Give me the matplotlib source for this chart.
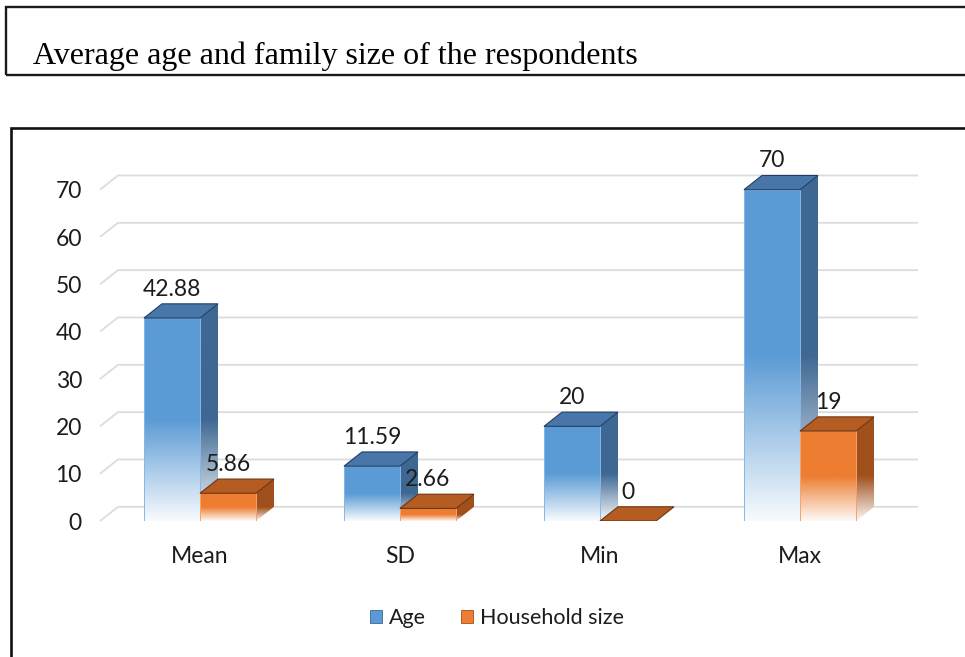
import numpy as np
import matplotlib
matplotlib.use("Agg")
import matplotlib.pyplot as plt
from matplotlib.patches import Polygon, Rectangle, Patch
from matplotlib.colors import to_rgb

# ---- data ----
categories = ["Mean", "SD", "Min", "Max"]
age = [42.88, 11.59, 20, 70]
household = [5.86, 2.66, 0, 19]
series_names = ["Age", "Household size"]
age_labels = ["42.88", "11.59", "20", "70"]
household_labels = ["5.86", "2.66", "0", "19"]
yticks = [0, 10, 20, 30, 40, 50, 60, 70]
title = "Average age and family size of the respondents"

# ---- style ----
W, H = 965, 657
FONT = "Lato"
TXT = "#1c1c1c"
FS = 16.5
blue = dict(front="#5B9BD5", side="#3E6893", top="#4876A8", edge="#1F3F66", hl="#86B7E6")
orange = dict(front="#ED7D31", side="#A0501C", top="#B45C22", edge="#6E3410", hl="#F4A46A")
BAR_W = 0.28
DX, DY = 0.09, 3.0  # 3D depth offset (data units)

fig = plt.figure(figsize=(W / 100, H / 100), dpi=100)

# frames
fig.add_artist(Rectangle((6 / W, 1 - 75 / H), (W + 20) / W, 68 / H, transform=fig.transFigure,
                         fill=False, lw=1.7, ec="#1a1a1a"))
fig.add_artist(Rectangle((11 / W, -0.05), (W + 20) / W, 1 - 128 / H + 0.05, transform=fig.transFigure,
                         fill=False, lw=1.9, ec="#111111"))
fig.text(33 / W, 1 - 64 / H, title, family="Liberation Serif", fontsize=23, color="black",
         ha="left", va="baseline")

ax = fig.add_axes([100 / W, (H - 521) / H, 800 / W, 355 / H])
ax.set_facecolor("none")
for s in ax.spines.values():
    s.set_visible(False)

# gridlines (back wall + left floor diagonal)
for y in yticks:
    ax.plot([-0.5, -0.5 + DX, 3.5 + DX], [y, y + DY, y + DY], color="#DCDCDC", lw=1.3,
            zorder=1, clip_on=False, solid_capstyle="butt")


def grad_array(color, h, y0, y1, n=300):
    ys = np.linspace(y0, y1, n)
    m = np.clip(ys / (0.5 * h), 0, 1)
    m = 0.04 + 0.96 * m
    c = np.array(to_rgb(color))
    rgb = (1 - m)[:, None] * np.ones(3)[None, :] + m[:, None] * c[None, :]
    arr = np.ones((n, 1, 4))
    arr[:, 0, :3] = rgb
    return arr


def face(verts, color, h, y0, y1, x0, x1, z):
    poly = Polygon(verts, closed=True, fc="none", ec="none", zorder=z)
    ax.add_patch(poly)
    im = ax.imshow(grad_array(color, h, y0, y1), extent=(x0, x1, y0, y1), origin="lower",
                   aspect="auto", interpolation="bilinear", zorder=z)
    im.set_clip_path(poly)


def bar3d(x0, h, st, z):
    x1 = x0 + BAR_W
    if h > 0:
        # front face
        face([(x0, 0), (x1, 0), (x1, h), (x0, h)], st["front"], h, 0, h, x0, x1, z)
        ax.add_patch(Rectangle((x0, 0), BAR_W, h, fc="none", ec=st["hl"], lw=0.7, zorder=z + 0.1))
        # side face
        face([(x1, 0), (x1 + DX, DY), (x1 + DX, h + DY), (x1, h)], st["side"], h, 0, h + DY,
             x1, x1 + DX, z)
    # top face
    ax.add_patch(Polygon([(x0, h), (x1, h), (x1 + DX, h + DY), (x0 + DX, h + DY)], closed=True,
                         fc=st["top"], ec=st["edge"], lw=0.8, zorder=z + 0.2))


x = np.arange(len(categories))
for i in range(len(categories)):
    bar3d(x[i] - BAR_W, age[i], blue, 3 + i)
    bar3d(x[i], household[i], orange, 10 + i)
    ax.annotate(age_labels[i], (x[i] - BAR_W / 2, age[i] + DY), xytext=(0, 3), textcoords="offset points",
                ha="center", va="bottom", fontsize=FS, family=FONT, color=TXT, zorder=30)
    ax.annotate(household_labels[i], (x[i] + BAR_W / 2, household[i] + DY), xytext=(0, 3),
                textcoords="offset points", ha="center", va="bottom", fontsize=FS, family=FONT,
                color=TXT, zorder=30)

ax.set_xlim(-0.5, 3.5)
ax.set_ylim(0, 75)
ax.set_yticks(yticks)
ax.set_yticklabels([str(t) for t in yticks], family=FONT, fontsize=FS, color=TXT)
ax.set_xticks(x)
ax.set_xticklabels(categories, family=FONT, fontsize=FS, color=TXT)
ax.tick_params(axis="y", length=0, pad=13)
ax.tick_params(axis="x", length=0, pad=18)

handles = [Patch(fc=blue["front"], ec=blue["side"], lw=0.6),
           Patch(fc=orange["front"], ec=orange["side"], lw=0.6)]
fig.legend(handles, series_names, loc="center", bbox_to_anchor=(497 / W, 1 - 618 / H), ncol=2,
           frameon=False, prop=dict(family=FONT, size=15.5), labelcolor=TXT, handlelength=0.55,
           handleheight=0.55, handletextpad=0.35, columnspacing=1.6)

fig.savefig("out.png", dpi=100)
